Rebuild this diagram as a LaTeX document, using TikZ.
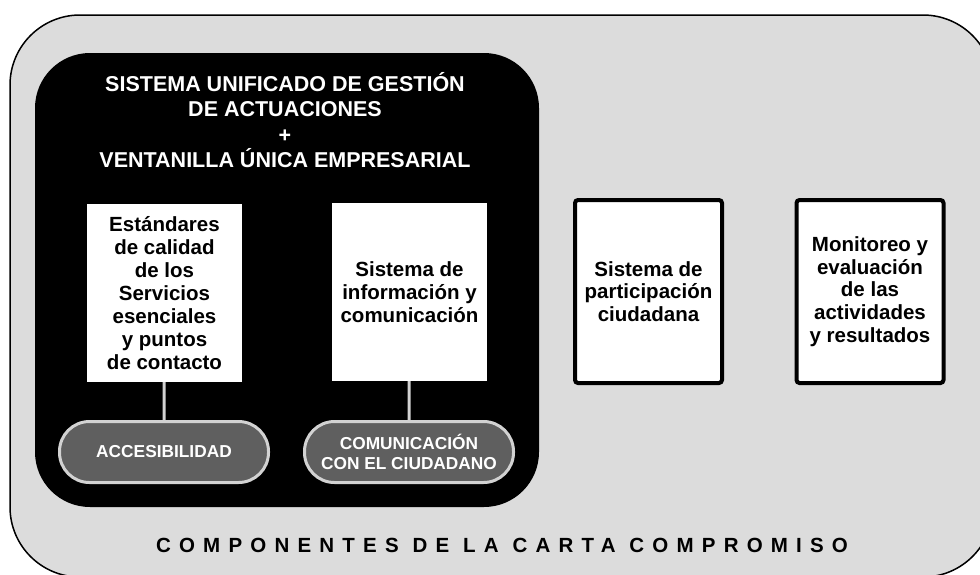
\documentclass[tikz,border=0pt]{standalone}
\usepackage{fontspec}
\setmainfont{Liberation Sans}
\newfontfamily\spacedfont[LetterSpace=40]{Liberation Sans}
\usetikzlibrary{positioning}
\tikzset{
  compbox/.style = {align=center, inner sep=0pt, fill=white, text=black,
  font=\bfseries\fontsize{20.5}{23}\selectfont},
  comp_in/.style = {compbox, minimum width=155, minimum height=178},
  comp_out/.style = {compbox, draw=black, line width=4, rounded corners=3,
  minimum width=147, minimum height=183, font=\bfseries\fontsize{20.5}{22.6}\selectfont},
  pill/.style = {align=center, inner sep=0pt, fill=my_dark, draw=my_light, line width=3,
  rounded corners=30, minimum width=209, minimum height=61, text=white,
  font=\bfseries\fontsize{17.3}{19.5}\selectfont}
}
\definecolor{my_gray}{RGB}{220, 220, 220}
\definecolor{my_dark}{RGB}{95, 95, 95}
\definecolor{my_light}{RGB}{210, 210, 210}

\begin{document}
\begin{tikzpicture}[x=1pt, y=-1pt,
    link/.style={draw=my_light, line width=3},
    blackbox/.style={fill=black, draw=none, rounded corners=55, inner sep=0pt},
    frame/.style={fill=my_gray, draw=black, line width=1.5, rounded corners=70}]
  \useasboundingbox (0,0) rectangle (980,574);
  \clip (0,0) rectangle (980,574);
  % fondo
  \draw[frame] (10,15) rectangle (993,577);
  \node[blackbox, minimum width=504, minimum height=454] (sistema) at (287,280) {};
  \node[align=center, text=white, font=\bfseries\fontsize{21.5}{25.3}\selectfont] (titulo) at (285,120)
    {SISTEMA UNIFICADO DE GESTIÓN\\DE ACTUACIONES\\+\\VENTANILLA ÚNICA EMPRESARIAL};
  % componentes
  \node[comp_in] (estandares) at (164.5,293) {Estándares\\de calidad\\de los\\Servicios\\esenciales\\y puntos\\de contacto};
  \node[comp_in] (informacion) at (409.5,292) {Sistema de\\información y\\comunicación};
  \node[comp_out] (participacion) at (648.5,291.5) {Sistema de\\participación\\ciudadana};
  \node[comp_out] (monitoreo) at (870,291.5) {Monitoreo y\\evaluación\\de las\\actividades\\y resultados};
  \node[pill] (acceso) at (164,452) {ACCESIBILIDAD};
  \node[pill] (comunicacion) at (409,452) {COMUNICACIÓN\\CON EL CIUDADANO};
  \draw[link] (estandares) -- (acceso);
  \draw[link] (informacion) -- (comunicacion);
  \node[font=\spacedfont\bfseries\fontsize{20.5}{22}\selectfont] (carta) at (502,545)
    {COMPONENTES DE LA CARTA COMPROMISO};
\end{tikzpicture}
\end{document}
